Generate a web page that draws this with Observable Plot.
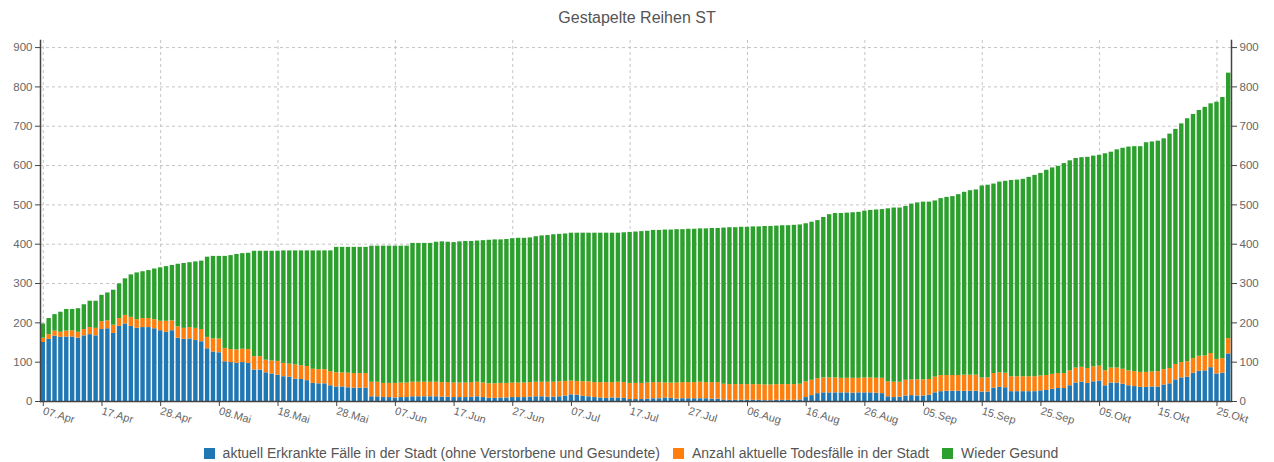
<!DOCTYPE html>
<html><head><meta charset="utf-8">
<script src="https://cdn.jsdelivr.net/npm/d3@7"></script>
<script src="https://cdn.jsdelivr.net/npm/@observablehq/plot@0.6"></script>
<style>
body{margin:0;background:#fff;font-family:"Liberation Sans",Arial,sans-serif;}
#wrap{width:1274px;height:462px;position:relative;overflow:hidden;background:#fff}
#title{height:34px;line-height:36px;text-align:center;font-size:16px;color:#555;}
#chart svg{display:block}
#legend{display:flex;justify-content:center;align-items:center;height:23px;line-height:23px;font-size:14px;color:#555;gap:13px;padding-right:12px;padding-top:3px}
.item{display:flex;align-items:center;gap:8px}
.sw{width:11px;height:11px;display:inline-block}
</style></head><body>
<div id="wrap"><div id="title">Gestapelte Reihen ST</div><div id="chart"></div><div id="legend"></div></div>
<script>
// ---- data ----
const seriesNames = [
  "aktuell Erkrankte Fälle in der Stadt (ohne Verstorbene und Gesundete)",
  "Anzahl aktuelle Todesfälle in der Stadt",
  "Wieder Gesund"
];
const colors = ["#1f77b4", "#ff7f0e", "#2ca02c"];
const monthNames = ["Jan","Feb","Mär","Apr","Mai","Jun","Jul","Aug","Sep","Okt","Nov","Dez"];
const firstDay = "2020-04-07";
const lastDay = "2020-10-27";
const missingDays = ["2020-04-26"];
const tickLabels = ["07.Apr","17.Apr","28.Apr","08.Mai","18.Mai","28.Mai","07.Jun","17.Jun","27.Jun","07.Jul","17.Jul","27.Jul","06.Aug","16.Aug","26.Aug","05.Sep","15.Sep","25.Sep","05.Okt","15.Okt","25.Okt"];
const gridLabels = ["07.Apr","28.Apr","18.Mai","07.Jun","27.Jun","17.Jul","06.Aug","26.Aug","15.Sep","05.Okt","25.Okt"];
const yTicks = [0,100,200,300,400,500,600,700,800,900];
const yMax = 918;

const erkrankt = [150,158,166,163,164,164,161,167,170,167, 183,185,173,191,197,191,186,188,188,185,
  180,176,180,161,158,159,155,152,134,126, 124,101,99,97,99,97,80,80,73,70,
  67,63,62,57,56,53,46,45,45,40, 37,37,35,34,34,34,12,12,10,10,
  9,10,10,12,12,12,12,12,11,11, 10,10,10,11,12,10,8,8,9,9,
  10,10,10,11,12,12,11,11,12,14, 17,16,13,12,10,9,8,9,9,8,
  5,5,5,6,7,7,9,8,6,7, 7,7,7,7,6,6,4,3,3,3,
  3,3,3,2,2,3,3,3,3,4, 10,15,20,22,22,22,22,22,21,22,
  22,22,21,20,12,10,11,14,15,14, 14,16,22,25,26,26,26,26,26,26,
  24,24,34,36,35,25,25,25,25,25, 27,28,31,33,33,40,47,49,46,50,
  52,40,47,47,44,40,38,36,36,37, 37,42,45,55,60,62,72,77,78,86,
  70,72,121];
const tote = [11,12,13,13,15,16,15,16,18,19, 20,20,21,20,22,23,22,23,23,23,
  24,28,25,29,28,29,31,31,29,33, 35,34,33,34,34,35,34,34,32,33,
  35,34,33,36,35,36,36,36,36,36, 36,36,37,37,37,37,37,37,36,36,
  37,37,37,37,37,37,37,37,37,37, 37,37,37,37,37,37,37,37,37,37,
  37,37,37,37,37,37,38,38,38,37, 35,35,37,38,38,39,40,39,40,40,
  41,41,41,41,41,41,38,39,41,41, 41,41,42,41,42,42,40,40,40,40,
  40,40,40,40,40,40,40,40,40,40, 40,39,38,38,38,38,37,37,38,37,
  38,38,38,39,38,39,38,40,40,41, 41,40,40,41,40,40,40,41,41,41,
  36,36,37,37,37,38,38,38,38,38, 38,38,38,38,38,38,38,38,38,38,
  38,38,38,38,38,38,38,38,38,38, 39,39,39,39,39,39,37,38,38,36,
  37,37,39];
const gesund = [36,41,42,51,55,54,60,63,67,69, 67,71,89,88,93,108,119,119,122,129,
  136,139,141,159,165,165,169,174,204,210, 210,234,239,243,243,245,268,268,277,279,
  280,286,288,290,292,294,301,302,302,307, 319,319,320,321,321,321,346,346,349,349,
  349,348,348,353,353,353,353,356,358,357, 357,359,360,359,359,362,365,366,365,366,
  367,368,368,368,370,372,373,375,375,375, 376,377,378,378,380,380,380,380,379,381,
  384,385,386,386,387,387,389,389,390,389, 390,390,390,391,392,392,397,399,399,400,
  400,401,401,403,403,403,404,404,405,405, 402,402,402,408,415,418,419,420,421,422,
  424,426,428,429,440,443,443,442,447,450, 452,451,448,450,453,455,460,465,469,471,
  488,490,482,485,488,499,500,502,507,512, 515,522,525,527,534,534,533,533,537,536,
  536,552,549,555,562,569,572,574,584,585, 586,587,596,598,607,618,621,625,632,635,
  654,664,675];

// ---- categories (days) ----
const missingSet = new Set(missingDays);
const days = d3.utcDay.range(new Date(firstDay), d3.utcDay.offset(new Date(lastDay), 1))
  .filter(d => !missingSet.has(d.toISOString().slice(0, 10)))
  .map(d => String(d.getUTCDate()).padStart(2, "0") + "." + monthNames[d.getUTCMonth()]);

const seriesValues = [erkrankt, tote, gesund];
const table = [];
days.forEach((day, i) => {
  seriesNames.forEach((s, k) => table.push({day, series: s, value: seriesValues[k][i]}));
});

const axisColor = "#444";
const chart = Plot.plot({
  width: 1274,
  height: 405,
  marginLeft: 40,
  marginRight: 43,
  marginTop: 6,
  marginBottom: 38,
  style: {fontFamily: "Liberation Sans, Arial, sans-serif", fontSize: "11px", color: "#666", background: "#fff"},
  x: {type: "band", domain: days, paddingInner: 0.25, paddingOuter: 0.1, label: null},
  y: {domain: [0, yMax], label: null},
  color: {domain: seriesNames, range: colors},
  marks: [
    Plot.gridY({ticks: yTicks.slice(1), stroke: "#c4c4c4", strokeOpacity: 1, strokeDasharray: "3,3"}),
    Plot.gridX({ticks: gridLabels, stroke: "#c4c4c4", strokeOpacity: 1, strokeDasharray: "3,3"}),
    Plot.barY(table, {x: "day", y: "value", fill: "series"}),
    Plot.ruleY([0], {stroke: axisColor, strokeWidth: 1.5}),
    Plot.frame({anchor: "left", stroke: axisColor, strokeWidth: 1.5}),
    Plot.frame({anchor: "right", stroke: axisColor, strokeWidth: 1.5}),
    Plot.axisY({ticks: yTicks, anchor: "left", tickSize: 5, tickPadding: 3, stroke: axisColor, fill: "#666", fontSize: 11.5, label: null}),
    Plot.axisY({ticks: yTicks, anchor: "right", tickSize: 5, tickPadding: 3, stroke: axisColor, fill: "#666", fontSize: 11.5, label: null}),
    Plot.axisX({ticks: tickLabels, anchor: "bottom", tickSize: 5, tickPadding: 4, tickRotate: 17, stroke: axisColor, fill: "#666", fontSize: 11, label: null})
  ]
});
document.getElementById("chart").appendChild(chart);

// ---- legend ----
const legend = document.getElementById("legend");
seriesNames.forEach((s, k) => {
  const item = document.createElement("div");
  item.className = "item";
  const sw = document.createElement("span");
  sw.className = "sw";
  sw.style.background = colors[k];
  const t = document.createElement("span");
  t.textContent = s;
  item.appendChild(sw);
  item.appendChild(t);
  legend.appendChild(item);
});
</script>
</body></html>
